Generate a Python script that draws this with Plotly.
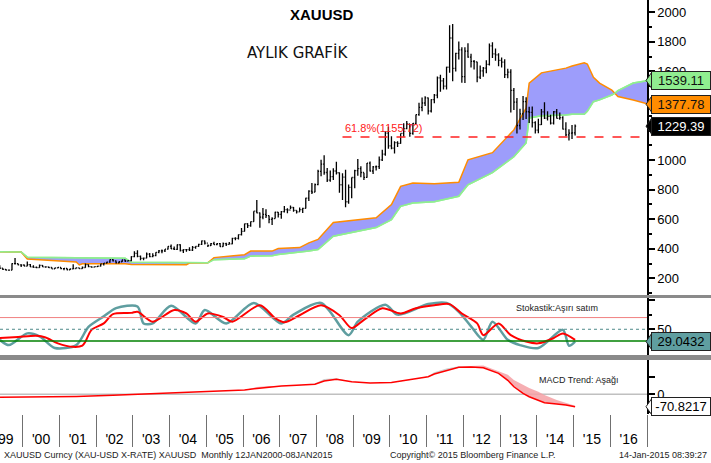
import plotly.graph_objects as go

# ---------------- DATA ----------------
first_month = "1999-05"
first_open = 287
closes = [268, 261, 255, 255, 299, 299, 291, 290,
          283, 293, 277, 274, 272, 288, 277, 277, 273, 264, 270, 273,
          265, 267, 258, 264, 266, 270, 266, 273, 293, 279, 275, 279,
          282, 297, 303, 309, 326, 318, 304, 312, 324, 317, 319, 347,
          368, 348, 335, 337, 364, 346, 354, 375, 385, 386, 398, 416,
          400, 396, 427, 388, 394, 394, 391, 409, 416, 429, 453, 438,
          422, 435, 428, 435, 415, 435, 430, 433, 470, 470, 495, 517,
          569, 556, 583, 654, 643, 614, 633, 624, 599, 604, 647, 632,
          651, 665, 662, 679, 659, 650, 665, 673, 743, 790, 783, 834,
          924, 972, 916, 864, 888, 926, 914, 833, 884, 718, 815, 882,
          928, 942, 916, 883, 979, 926, 954, 955, 1001, 1040, 1182, 1096,
          1081, 1118, 1113, 1180, 1213, 1244, 1181, 1248, 1307, 1357, 1386, 1421,
          1332, 1409, 1439, 1556, 1536, 1500, 1628, 1826, 1620, 1722, 1746, 1564,
          1737, 1697, 1668, 1664, 1561, 1604, 1622, 1648, 1773, 1719, 1712, 1675,
          1663, 1578, 1595, 1472, 1392, 1234, 1312, 1396, 1327, 1323, 1253, 1202,
          1240, 1326, 1284, 1296, 1250, 1327, 1282, 1287, 1210, 1171, 1182, 1184,
          1229.39]
highs = [289, 268, 263, 260, 301, 338, 300, 294,
         293, 313, 296, 288, 280, 294, 290, 281, 277, 275, 272, 275,
         273, 269, 268, 266, 295, 274, 272, 280, 300, 293, 280, 280,
         285, 299, 304, 312, 327, 331, 321, 316, 325, 325, 322, 349,
         383, 389, 355, 341, 375, 372, 369, 376, 392, 395, 398, 417,
         428, 416, 428, 430, 397, 398, 410, 418, 417, 433, 456, 456,
         429, 439, 447, 438, 438, 442, 440, 446, 474, 478, 497, 541,
         569, 573, 584, 654, 730, 646, 675, 667, 625, 613, 650, 649,
         655, 690, 674, 692, 682, 661, 679, 677, 745, 796, 845, 842,
         934, 1002, 1033, 946, 929, 944, 988, 916, 911, 935, 834, 882,
         935, 1007, 958, 915, 980, 990, 960, 964, 1024, 1070, 1195, 1226,
         1161, 1128, 1128, 1180, 1249, 1265, 1244, 1250, 1308, 1388, 1424, 1431,
         1424, 1412, 1447, 1566, 1577, 1556, 1632, 1913, 1921, 1726, 1803, 1764,
         1764, 1791, 1720, 1677, 1666, 1640, 1630, 1675, 1788, 1797, 1755, 1723,
         1694, 1682, 1617, 1615, 1487, 1420, 1348, 1434, 1425, 1361, 1362, 1262,
         1280, 1345, 1392, 1331, 1306, 1332, 1345, 1322, 1296, 1255, 1209, 1238,
         1240]
lows = [266, 256, 252, 251, 254, 293, 288, 277,
        281, 282, 276, 272, 268, 271, 276, 272, 270, 264, 263, 269,
        262, 255, 255, 256, 264, 266, 264, 265, 272, 275, 271, 274,
        277, 280, 287, 300, 306, 313, 300, 302, 311, 310, 316, 316,
        343, 342, 322, 322, 335, 343, 342, 350, 370, 370, 378, 395,
        399, 392, 392, 381, 371, 380, 384, 384, 400, 413, 426, 428,
        411, 418, 427, 424, 414, 414, 418, 429, 431, 458, 462, 490,
        517, 541, 548, 583, 640, 542, 600, 608, 573, 560, 604, 612,
        603, 646, 640, 669, 651, 638, 651, 642, 672, 723, 771, 782,
        830, 890, 900, 851, 853, 865, 902, 779, 730, 681, 704, 742,
        810, 894, 884, 865, 880, 922, 905, 930, 940, 993, 1030, 1077,
        1073, 1044, 1088, 1111, 1158, 1208, 1157, 1172, 1244, 1300, 1330, 1366,
        1309, 1322, 1384, 1419, 1462, 1478, 1478, 1591, 1534, 1600, 1681, 1523,
        1522, 1693, 1627, 1613, 1526, 1548, 1563, 1588, 1640, 1691, 1672, 1635,
        1626, 1555, 1554, 1321, 1339, 1180, 1207, 1271, 1277, 1251, 1221, 1180,
        1182, 1238, 1277, 1268, 1240, 1240, 1281, 1273, 1206, 1161, 1132, 1142,
        1167]

# Ichimoku cloud
cloud_dates = ["1999-05", "1999-12", "2000-02", "2001-06", "2001-07", "2001-08", "2002-10",
               "2002-12", "2004-06", "2004-07", "2005-01", "2005-03", "2006-01", "2006-03",
               "2006-10", "2006-12", "2007-07", "2007-10", "2008-01", "2008-06", "2009-08",
               "2010-01", "2010-04", "2010-08", "2011-03", "2011-11", "2012-02", "2012-10",
               "2013-05", "2013-09", "2013-10", "2014-02", "2014-10", "2014-12", "2015-04",
               "2015-05", "2015-07", "2015-09", "2016-01", "2016-02", "2016-03", "2016-08",
               "2017-01"]
senkou_a = [380, 378, 330, 310, 290, 298, 298, 294, 292, 303, 305, 340, 360, 384,
            384, 402, 408, 440, 463, 577, 609, 699, 822, 845, 840, 850, 1002, 1050,
            1204, 1352, 1521, 1590, 1622, 1636, 1658, 1650, 1560, 1521, 1474, 1452,
            1430, 1407, 1377.78]
senkou_b = [380, 378, 343, 338, 338, 338, 336, 308, 305, 303, 305, 326, 333, 350,
            352, 361, 375, 385, 395, 485, 543, 597, 687, 710, 718, 755, 833, 915,
            1022, 1116, 1285, 1300, 1305, 1310, 1310, 1330, 1395, 1407, 1440, 1452,
            1470, 1521, 1539.11]

fib_label = "61.8%"
fib_level = 1155.72
fib_start = "2008-09"

# Stochastic
stoch_k_dates = ["1999-05", "1999-08", "2000-02", "2000-06", "2000-11", "2001-06", "2001-10",
                 "2002-03", "2002-07", "2003-02", "2003-04", "2003-07", "2004-01", "2004-09",
                 "2004-12", "2005-07", "2006-04", "2007-01", "2007-05", "2008-02", "2008-11",
                 "2009-02", "2009-11", "2010-03", "2011-01", "2011-07", "2011-11", "2012-03",
                 "2012-07", "2012-10", "2013-03", "2013-07", "2014-01", "2014-09", "2014-11",
                 "2015-01"]
stoch_k = [32, 23, 43, 38, 18, 23, 54, 72, 86, 89, 60, 60, 90, 60, 83, 60, 95, 60, 75,
           95, 40, 63, 92, 75, 93, 95, 80, 55, 32, 63, 32, 23, 18, 49, 22, 29.0432]
stoch_d_dates = ["1999-05", "1999-11", "2000-05", "2000-08", "2000-12", "2001-05", "2001-08",
                 "2001-09", "2001-11", "2002-03", "2002-06", "2002-12", "2003-02", "2003-07",
                 "2004-02", "2004-06", "2004-09", "2005-01", "2005-06", "2005-09", "2006-06",
                 "2006-11", "2007-02", "2007-07", "2008-02", "2008-08", "2008-12", "2009-04",
                 "2009-10", "2010-04", "2010-09", "2011-03", "2011-08", "2011-12", "2012-05",
                 "2012-07", "2012-12", "2013-04", "2013-09", "2014-01", "2014-06", "2014-09",
                 "2015-01"]
stoch_d = [35, 37, 39, 36, 26, 20, 22, 29, 49, 60, 76, 78, 80, 63, 83, 77, 63, 77, 71, 63,
           91, 69, 62, 74, 91, 74, 52, 66, 86, 77, 86, 91, 93, 77, 60, 40, 60, 40, 29, 26,
           35, 43, 32]
stoch_levels = [70, 50, 30]

# MACD trend
macd_dates = ["1999-05", "2000-06", "2001-06", "2002-06", "2003-06", "2004-06", "2005-06",
              "2006-01", "2006-05", "2006-09", "2007-01", "2007-06", "2007-12", "2008-03",
              "2008-07", "2008-12", "2009-06", "2010-01", "2010-07", "2011-01", "2011-03",
              "2011-07", "2011-11", "2012-03", "2012-07", "2012-12", "2013-03", "2013-05",
              "2013-08", "2013-10", "2014-01", "2014-03", "2014-07", "2014-10", "2015-01"]
macd_vals = [-17, -15, -12, -6, 2, 12, 18, 25, 33, 42, 48, 52, 57, 76, 86, 72, 65, 68, 82,
             100, 116, 135, 154, 156, 152, 120, 80, 43, 5, -14, -35, -48, -56, -61, -70.8217]
macd_gray_top = [-17, -15, -12, -6, 2, 12, 18, 25, 33, 42, 48, 52, 62, 88, 92, 72, 65, 68, 82,
                 103, 126, 148, 160, 156, 152, 120, 80, 43, 5, -14, -35, -48, -56, -61, -70.8217]
macd_pink_top = [-17, -15, -12, -6, 2, 12, 18, 25, 42, 48, 48, 52, 57, 76, 86, 72, 65, 68, 82,
                 100, 116, 135, 154, 162, 165, 132, 112, 82, 53, 36, 15, -4, -32, -50, -66]

year_labels = ["'99", "'00", "'01", "'02", "'03", "'04", "'05", "'06", "'07", "'08",
               "'09", "'10", "'11", "'12", "'13", "'14", "'15", "'16"]
first_label_year = 1999
price_ticks = [200, 400, 600, 800, 1000, 1200, 1400, 1600, 1800, 2000]
price_tick_text = ["200", "400", "600", "800", "1000", "", "", "1600", "1800", "2000"]

# ---------------- helpers ----------------
def tpos(ym):
    y, m = ym.split("-")
    return int(y) + (int(m) - 0.5) / 12.0

y0, m0 = map(int, first_month.split("-"))
months = []
for i in range(len(closes)):
    mm = m0 - 1 + i
    months.append(f"{y0 + mm // 12}-{mm % 12 + 1:02d}")
opens = [first_open] + closes[:-1]
xs = [tpos(s) for s in months]

W, H = 711, 463
PLOT_R = 647          # right edge of plotting area (px)
PLOT_B = 414          # bottom of plotting stack (px)
ML, MR, MT, MB = 0, W - PLOT_R, 0, H - PLOT_B

def py(p):            # pixel row -> paper y
    return (PLOT_B - p) / PLOT_B

def px(p):            # pixel column -> paper x
    return p / PLOT_R

x_range = [1999.382, 2017.0]
p_range = [87, 2083]
s_range = [6.1, 103.4]
m_range = [-112.6, 196]
dom1 = [py(295), 1.0]
dom2 = [py(355), py(298)]
dom3 = [0.0, py(360)]

FONT = "Liberation Sans"
fig = go.Figure()

# cloud
cx = [tpos(s) for s in cloud_dates]
fig.add_trace(go.Scatter(x=cx, y=senkou_b, mode="lines", line=dict(color="#90ee90", width=1.5),
                         hoverinfo="skip", showlegend=False))
fig.add_trace(go.Scatter(x=cx, y=senkou_a, mode="lines", line=dict(color="#ff8c00", width=1.5),
                         fill="tonexty", fillcolor="#9d9dfb", hoverinfo="skip", showlegend=False))
fig.add_trace(go.Scatter(x=cx, y=senkou_b, mode="lines", line=dict(color="#90ee90", width=1.5),
                         hoverinfo="skip", showlegend=False))

# price bars on overlaying axis so they sit above the cloud
fig.add_trace(go.Ohlc(x=xs, open=opens, high=highs, low=lows, close=closes, yaxis="y4",
                      increasing=dict(line=dict(color="black", width=1.3)),
                      decreasing=dict(line=dict(color="black", width=1.3)),
                      tickwidth=0.35, showlegend=False, hoverinfo="skip"))

# stochastic
fig.add_trace(go.Scatter(x=[tpos(s) for s in stoch_k_dates], y=stoch_k, yaxis="y2", mode="lines",
                         line=dict(color="#5f9ea0", width=2.5, shape="spline", smoothing=0.8),
                         hoverinfo="skip", showlegend=False))
fig.add_trace(go.Scatter(x=[tpos(s) for s in stoch_d_dates], y=stoch_d, yaxis="y2", mode="lines",
                         line=dict(color="#ff0000", width=2, shape="spline", smoothing=0.8),
                         hoverinfo="skip", showlegend=False))

# MACD trend
mx = [tpos(s) for s in macd_dates]
fig.add_trace(go.Scatter(x=mx, y=macd_vals, yaxis="y3", mode="lines", line=dict(width=0),
                         hoverinfo="skip", showlegend=False))
fig.add_trace(go.Scatter(x=mx, y=macd_gray_top, yaxis="y3", mode="lines", line=dict(width=0),
                         fill="tonexty", fillcolor="rgba(200,200,200,0.9)", hoverinfo="skip", showlegend=False))
fig.add_trace(go.Scatter(x=mx, y=macd_vals, yaxis="y3", mode="lines", line=dict(width=0),
                         hoverinfo="skip", showlegend=False))
fig.add_trace(go.Scatter(x=mx, y=macd_pink_top, yaxis="y3", mode="lines", line=dict(width=0),
                         fill="tonexty", fillcolor="rgba(245,160,165,0.85)", hoverinfo="skip", showlegend=False))
fig.add_trace(go.Scatter(x=mx, y=macd_vals, yaxis="y3", mode="lines",
                         line=dict(color="#ff0000", width=1.5),
                         hoverinfo="skip", showlegend=False))

shapes = []
# separators
for a, b in [(295, 298), (355, 360)]:
    shapes.append(dict(type="rect", xref="paper", yref="paper", x0=0, x1=px(W), y0=py(b), y1=py(a),
                       fillcolor="#8a8a8a", line=dict(width=0), layer="above"))
# fibonacci line
shapes.append(dict(type="line", xref="x", yref="y", x0=tpos(fib_start), x1=x_range[1],
                   y0=fib_level, y1=fib_level, line=dict(color="#ff2020", width=1.5, dash="dash")))
# stochastic reference levels
lvl_style = [dict(color="#f08080", width=1), dict(color="#4f8a8a", width=1, dash="dot"),
             dict(color="#008000", width=1.5)]
for lv, st in zip(stoch_levels, lvl_style):
    shapes.append(dict(type="line", xref="paper", yref="y2", x0=0, x1=1, y0=lv, y1=lv, line=st))
# MACD zero line
shapes.append(dict(type="line", xref="paper", yref="y3", x0=0, x1=1, y0=0, y1=0,
                   line=dict(color="#c0c0c0", width=1.5), layer="below"))

annotations = []

def text_at(text, xp, yp, anchor, size, color="#222", family=FONT):
    annotations.append(dict(text=text, x=px(xp), y=py(yp), xref="paper", yref="paper",
                            xanchor=anchor, yanchor="middle", showarrow=False,
                            font=dict(family=family, size=size, color=color)))

text_at("<b>XAUUSD</b>", 322, 14, "center", 15, "black")
text_at("AYLIK GRAFİK", 297, 52, "center", 15, "#111", "DejaVu Sans")
annotations.append(dict(text=f"{fib_label}({fib_level})", x=tpos(fib_start) + 0.02, y=fib_level,
                        xref="x", yref="y", xanchor="left", yanchor="bottom", yshift=1,
                        showarrow=False, font=dict(family=FONT, size=11, color="#ff2020")))

def value_box(val, yref, text, bg, fg, span_px, span_units):
    half = 8.5 * span_units / span_px
    annotations.append(dict(text=text, x=px(651), y=val, xref="paper", yref=yref, xanchor="left",
                            yanchor="middle", showarrow=False, width=56, height=15, align="center",
                            bgcolor=bg, bordercolor="#202020", borderwidth=1, borderpad=1,
                            font=dict(family=FONT, size=13, color=fg)))
    shapes.append(dict(type="path", xref="paper", yref=yref,
                       path=f"M {px(646)},{val} L {px(652)},{val + half} L {px(652)},{val - half} Z",
                       fillcolor=bg, line=dict(color="#202020", width=1), layer="above"))

pspan = (p_range[1] - p_range[0])
value_box(senkou_b[-1], "y", f"{senkou_b[-1]:.2f}", "#90ee90", "#111", 295, pspan)
value_box(senkou_a[-1], "y", f"{senkou_a[-1]:.2f}", "#ff8c00", "#111", 295, pspan)
value_box(closes[-1], "y", f"{closes[-1]:.2f}", "#000000", "#ffffff", 295, pspan)
value_box(stoch_k[-1], "y2", f"{stoch_k[-1]:.4f}", "#5f9ea0", "#000", 57, s_range[1] - s_range[0])
value_box(macd_vals[-1], "y3", f"{macd_vals[-1]:.4f}", "#ffffff", "#000", 54, m_range[1] - m_range[0])

text_at("Stokastik:Aşırı satım", 514, 308, "left", 9)
text_at("MACD Trend: Aşağı", 537, 380, "left", 9)
text_at("XAUUSD Curncy (XAU-USD X-RATE) XAUUSD  Monthly 12JAN2000-08JAN2015", 2, 455, "left", 9)
text_at("Copyright© 2015 Bloomberg Finance L.P.", 388, 455, "left", 9)
text_at("14-Jan-2015 08:39:27", 709, 455, "right", 9)

ytick_common = dict(side="right", showline=True, linecolor="black", linewidth=1.5, ticks="outside",
                    tickcolor="black", ticklen=6, tickwidth=2, showgrid=False, zeroline=False,
                    automargin=False,
                    tickfont=dict(family=FONT, size=13, color="black"), fixedrange=True)

fig.update_layout(
    width=W, height=H, margin=dict(l=ML, r=MR, t=MT, b=MB, autoexpand=False),
    paper_bgcolor="white", plot_bgcolor="white", showlegend=False,
    font=dict(family=FONT),
    xaxis=dict(range=x_range, anchor="y3", showgrid=False, zeroline=False, showline=False,
               automargin=False, ticklabeloverflow="allow",
               tickmode="array", tickvals=[first_label_year + i + 0.5 for i in range(len(year_labels))],
               ticktext=year_labels, ticks="outside", ticklen=12, tickcolor="rgba(0,0,0,0)",
               tickfont=dict(family=FONT, size=14, color="black"),
               minor=dict(tickmode="linear", tick0=2000, dtick=1, ticks="outside", ticklen=32,
                          tickcolor="#707070", tickwidth=1, showgrid=False),
               rangeslider=dict(visible=False), fixedrange=True),
    yaxis=dict(domain=dom1, range=p_range, tickmode="array", tickvals=price_ticks,
               ticktext=price_tick_text,
               minor=dict(dtick=100, tick0=0, ticks="outside", ticklen=3, tickcolor="black"),
               **ytick_common),
    yaxis4=dict(overlaying="y", range=p_range, visible=False, fixedrange=True),
    yaxis2=dict(domain=dom2, range=s_range, tickmode="array", tickvals=[50, 100], ticktext=["50", ""],
                minor=dict(dtick=25, tick0=0, ticks="outside", ticklen=3, tickcolor="black"),
                **ytick_common),
    yaxis3=dict(domain=dom3, range=m_range, tickmode="array", tickvals=[0, 100], ticktext=["0", ""],
                minor=dict(dtick=100, tick0=0, ticks="outside", ticklen=3, tickcolor="black"),
                **ytick_common),
    shapes=shapes, annotations=annotations,
)

fig.write_html("out.html", config={"displayModeBar": False},
               post_script="document.body.style.margin='0';document.body.style.overflow='hidden';")
